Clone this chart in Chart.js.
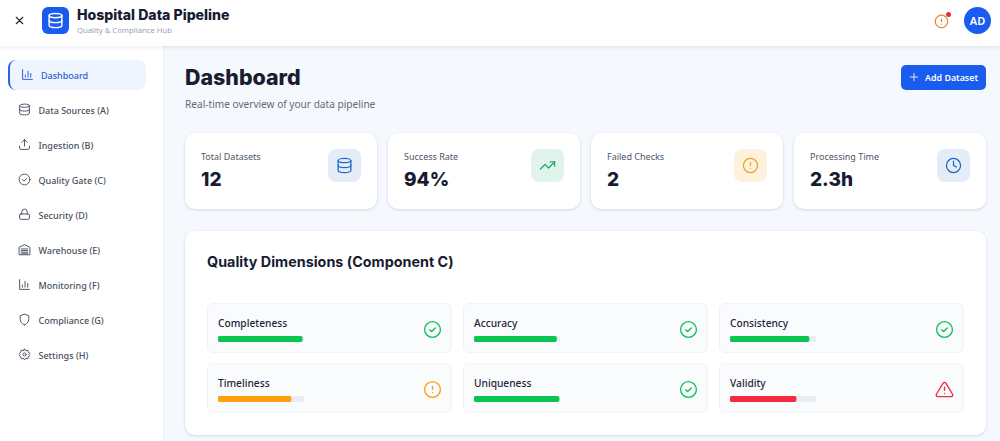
<!DOCTYPE html>
<html lang="en">
  <head>
    <meta charset="UTF-8" />
    <title>Hospital Data Pipeline</title>
    <script src="https://cdn.jsdelivr.net/npm/chart.js"></script>
    <style>
      * { box-sizing: border-box; margin: 0; padding: 0; }
      html, body { width: 1000px; height: 441px; overflow: hidden; }
      body { font-family: "Noto Sans", Inter, sans-serif; background: #f5f8fc; color: #171c30; position: relative; }
      svg { fill: none; stroke: currentColor; stroke-width: 2; stroke-linecap: round; stroke-linejoin: round; display: block; }
      .abs, .card, .tile, .nav, .panel { position: absolute; }
      .head { font-family: Inter, sans-serif; font-weight: 800; color: #171c30; white-space: nowrap; }
      header { position: absolute; left: 0; top: 0; width: 1000px; height: 46px; background: #fff; box-shadow: 0 1px 5px rgba(30,50,90,.10); z-index: 3; }
      aside { position: absolute; left: 0; top: 46px; width: 163px; height: 395px; background: #fff; box-shadow: 1px 0 3px rgba(30,50,90,.05); z-index: 2; }
      .nav { left: 8px; width: 138px; height: 30px; font-size: 9px; font-weight: 500; color: #464f60; line-height: 32px; padding-left: 30.5px; }
      .nav svg { position: absolute; left: 10px; top: 8px; width: 13px; height: 13px; stroke-width: 1.8; color: #4b5565; }
      .nav.active { background: #eff5fe; border-left: 2px solid #2a62e8; border-radius: 8px; color: #2c5bd2; padding-left: 31px; }
      .nav.active svg { color: #2c5bd2; left: 11px; }
      .card { top: 133px; width: 192px; height: 76px; background: #fff; border-radius: 10px; box-shadow: 0 1px 3px rgba(30,50,90,.16); }
      .card .lbl { position: absolute; left: 16px; top: 18px; font-size: 9px; line-height: 12px; color: #4b5563; }
      .card .val { position: absolute; left: 16px; top: 33px; font-family: Inter, sans-serif; font-size: 19px; line-height: 28px; font-weight: 800; color: #171c30; }
      .card .ico { position: absolute; left: 143px; top: 16px; width: 33px; height: 33px; border-radius: 8px; display: flex; align-items: center; justify-content: center; }
      .card .ico svg { width: 17px; height: 17px; stroke-width: 1.8; }
      .panel { left: 185px; top: 231px; width: 801px; height: 204px; background: #fff; border-radius: 10px; box-shadow: 0 1px 3px rgba(30,50,90,.16); }
      .tile { width: 245px; height: 50px; background: #f9fbfd; border: 1px solid #f0f3f7; border-radius: 6px; }
      .tile .name { position: absolute; left: 10px; top: 12px; font-size: 10.2px; line-height: 14px; font-weight: 500; color: #1f2637; }
      .tile canvas { position: absolute; left: 10px; top: 32px; display: block; }
      .tile svg { position: absolute; left: 215px; top: 15.5px; width: 19px; height: 19px; stroke-width: 1.7; }
    </style>
  </head>
  <body>
    <header>
      <svg class="abs" style="left:13px;top:14px;width:13px;height:13px;color:#1d2333" viewBox="0 0 24 24"><path d="M18 6 6 18M6 6l12 12"/></svg>
      <div class="abs" style="left:42px;top:7px;width:27px;height:27px;background:#1a5cf0;border-radius:6px"></div>
      <svg class="abs" style="left:47px;top:12px;width:17px;height:17px;color:#fff" viewBox="0 0 24 24"><ellipse cx="12" cy="5" rx="9" ry="3"/><path d="M3 5v14c0 1.7 4 3 9 3s9-1.3 9-3V5"/><path d="M3 12c0 1.7 4 3 9 3s9-1.3 9-3"/></svg>
      <div class="abs head" style="left:77px;top:6px;font-size:14.1px;line-height:18px">Hospital Data Pipeline</div>
      <div class="abs" style="left:77px;top:25px;font-size:7.7px;line-height:11px;color:#9aa3af;white-space:nowrap">Quality &amp; Compliance Hub</div>
      <svg class="abs" style="left:934px;top:13.5px;width:15px;height:15px;color:#e08a2e" viewBox="0 0 24 24"><circle cx="12" cy="12" r="10"/><path d="M12 8v4M12 16h.01"/></svg>
      <div class="abs" style="left:945.5px;top:11.5px;width:5px;height:5px;border-radius:50%;background:#f0283c"></div>
      <div class="abs" style="left:964px;top:7px;width:27px;height:27px;border-radius:50%;background:#1a5cf0;color:#fff;font-size:11px;font-weight:600;line-height:27px;text-align:center">AD</div>
    </header>
    <aside id="side"></aside>

    <div class="abs head" style="left:185px;top:63px;font-size:21.4px;line-height:28px">Dashboard</div>
    <div class="abs" style="left:185px;top:97px;font-size:10.1px;line-height:14px;color:#5f6b7a">Real-time overview of your data pipeline</div>
    <div class="abs" style="left:901px;top:65px;width:85px;height:25px;background:#1a5cf0;border-radius:5px;color:#fff;font-size:8.9px;font-weight:600;line-height:26px;padding-left:24px">Add Dataset</div>
    <svg class="abs" style="left:909px;top:72px;width:10px;height:10px;color:#fff" viewBox="0 0 24 24"><path d="M12 3v18M3 12h18"/></svg>

    <div id="cards"></div>

    <div class="panel">
      <div class="abs head" style="left:22px;top:21px;font-size:14.3px;line-height:20px;font-weight:700;letter-spacing:.03px">Quality Dimensions (Component C)</div>
    </div>
    <div id="tiles"></div>

    <script>
      // nav items
      const navLabels = ["Dashboard", "Data Sources (A)", "Ingestion (B)", "Quality Gate (C)", "Security (D)", "Warehouse (E)", "Monitoring (F)", "Compliance (G)", "Settings (H)"];

      // stat cards
      const statLabels = ["Total Datasets", "Success Rate", "Failed Checks", "Processing Time"];
      const statValues = ["12", "94%", "2", "2.3h"];

      // quality dimensions
      const dimensions = ["Completeness", "Accuracy", "Consistency", "Timeliness", "Uniqueness", "Validity"];
      const dimensionScores = [98, 96, 92, 85, 99, 77];
      const dimensionStatus = ["ok", "ok", "ok", "warn", "ok", "bad"];

      const db = '<ellipse cx="12" cy="5" rx="9" ry="3"/><path d="M3 5v14c0 1.7 4 3 9 3s9-1.3 9-3V5"/><path d="M3 12c0 1.7 4 3 9 3s9-1.3 9-3"/>';
      const bars = '<path d="M3 3v18h18"/><path d="M8 17v-4M13 17V6M18 17v-7"/>';
      const navIcons = [
        bars, db,
        '<path d="M21 15v4a2 2 0 0 1-2 2H5a2 2 0 0 1-2-2v-4"/><path d="M17 8l-5-5-5 5M12 3v12"/>',
        '<circle cx="12" cy="12" r="10"/><path d="m8 12 3 3 5-5"/>',
        '<rect x="3" y="11" width="18" height="10" rx="2"/><path d="M7 11V7a5 5 0 0 1 10 0v4"/>',
        '<path d="M22 21V8l-10-5L2 8v13z"/><path d="M6 11h12M6 14h12M6 17h12M6 20h12"/>',
        bars,
        '<path d="M12 22s8-3 8-10V5l-8-3-8 3v7c0 7 8 10 8 10z"/>',
        '<circle cx="12" cy="12" r="3"/><path d="M12 2l2 3 4-1 1 4 3 2-2 2 2 2-3 2-1 4-4-1-2 3-2-3-4 1-1-4-3-2 2-2-2-2 3-2 1-4 4 1z"/>'
      ];
      const alertIcon = '<circle cx="12" cy="12" r="10"/><path d="M12 8v4M12 16h.01"/>';
      const checkIcon = '<circle cx="12" cy="12" r="10"/><path d="m8.5 12.5 2.5 2 4.5-4.5"/>';
      const triangleIcon = '<path d="M10.3 3.9 1.8 18a2 2 0 0 0 1.7 3h17a2 2 0 0 0 1.7-3L13.7 3.9a2 2 0 0 0-3.4 0z"/><path d="M12 9v4M12 17h.01"/>';

      const statIcons = [db, '<path d="M22 7l-8.5 8.5-5-5L2 17"/><path d="M16 7h6v6"/>', alertIcon, '<circle cx="12" cy="12" r="10"/><path d="M12 6v6l4 2"/>'];
      const statTints = ["#e3ecf7", "#e1f4ec", "#fff2dd", "#e3ecf7"];
      const statInks = ["#1d68c4", "#22a878", "#eaa124", "#1d68c4"];
      const statusColor = { ok: "#0bc553", warn: "#ff9f0a", bad: "#f5293f" };
      const statusIcon = { ok: checkIcon, warn: alertIcon, bad: triangleIcon };

      const side = document.getElementById("side");
      navLabels.forEach((label, i) => {
        const el = document.createElement("div");
        el.className = "nav" + (i === 0 ? " active" : "");
        el.style.top = (14 + i * 35) + "px";
        el.innerHTML = `<svg viewBox="0 0 24 24">${navIcons[i]}</svg>${label}`;
        side.appendChild(el);
      });

      const cards = document.getElementById("cards");
      statLabels.forEach((label, i) => {
        const el = document.createElement("div");
        el.className = "card";
        el.style.left = (185 + i * 203) + "px";
        el.innerHTML = `<div class="lbl">${label}</div><div class="val">${statValues[i]}</div>
          <div class="ico" style="background:${statTints[i]};color:${statInks[i]}"><svg viewBox="0 0 24 24">${statIcons[i]}</svg></div>`;
        cards.appendChild(el);
      });

      const tiles = document.getElementById("tiles");
      dimensions.forEach((name, i) => {
        const el = document.createElement("div");
        el.className = "tile";
        el.style.left = (207 + (i % 3) * 256) + "px";
        el.style.top = (303 + Math.floor(i / 3) * 60) + "px";
        const color = statusColor[dimensionStatus[i]];
        el.innerHTML = `<div class="name">${name}</div><canvas width="86" height="6"></canvas>
          <svg viewBox="0 0 24 24" style="color:${color}">${statusIcon[dimensionStatus[i]]}</svg>`;
        tiles.appendChild(el);

        // progress bar: score on top of a full-width track
        new Chart(el.querySelector("canvas"), {
          type: "bar",
          data: {
            labels: [name],
            datasets: [
              { data: [dimensionScores[i]], backgroundColor: color, order: 1 },
              { data: [100], backgroundColor: "#e9ecf0", order: 2 }
            ]
          },
          options: {
            indexAxis: "y",
            responsive: false,
            animation: false,
            layout: { padding: 0 },
            datasets: { bar: { grouped: false, barPercentage: 1, categoryPercentage: 1, borderRadius: 3, borderSkipped: false } },
            plugins: { legend: { display: false }, tooltip: { enabled: false } },
            scales: {
              x: { display: false, min: 0, max: 100 },
              y: { display: false }
            }
          }
        });
      });
    </script>
  </body>
</html>
